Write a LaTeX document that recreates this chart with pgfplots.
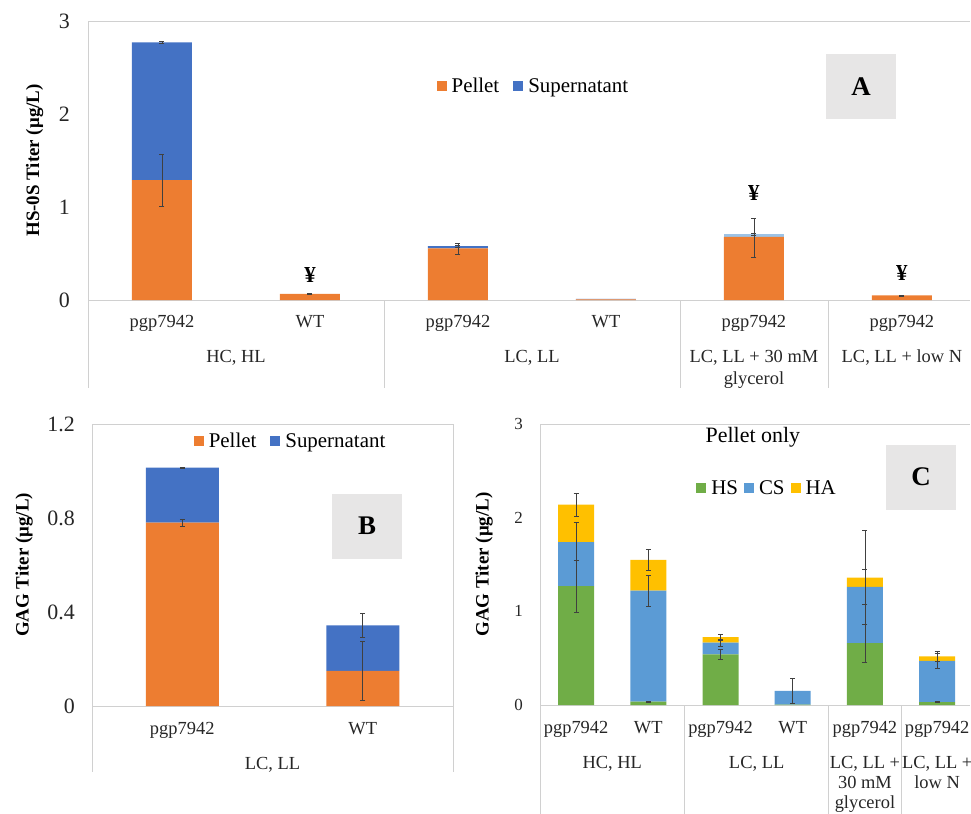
\documentclass[border=0pt]{standalone}
\usepackage{pgfplots}
\pgfplotsset{compat=1.18}
\usepackage{fontspec}
\setmainfont{Liberation Serif}
\definecolor{cOr}{HTML}{ED7D31}
\definecolor{cBl}{HTML}{4472C4}
\definecolor{cGr}{HTML}{70AD47}
\definecolor{cCs}{HTML}{5B9BD5}
\definecolor{cHa}{HTML}{FFC000}
\definecolor{cLb}{HTML}{9DC3E6}
\definecolor{boxg}{HTML}{E7E6E6}
\definecolor{frg}{HTML}{D0D0D0}
\newcommand\fsz[2]{\fontsize{#1}{#2}\selectfont}
\pgfplotsset{
  base/.style={clip=false, axis line style={draw=none},
    major tick length=0pt,
    /pgf/number format/assume math mode=true,
    xticklabel style={font=\fsz{18.5}{22}, anchor=north, inner sep=0pt, text=black!85},
    yticklabel style={anchor=east, inner sep=0pt, text=black!85},
    ylabel style={font=\bfseries\fsz{19}{22}},
    legend cell align=left, legend columns=-1,
    legend style={draw=none, fill=none, font=\fsz{21}{24},
      /tikz/every even column/.append style={column sep=12bp}}},
  sq/.style={legend image code/.code={\fill[##1] (0bp,-5bp) rectangle (10bp,5bp); \path (13bp,0bp);}},
  geoA/.style={scale only axis, at={(88bp,-300bp)}, anchor=south west, width=882bp, height=279bp,
    xmin=-0.5, xmax=5.46, ymin=0, ymax=3},
  geoB/.style={scale only axis, at={(92bp,-706bp)}, anchor=south west, width=361bp, height=282bp,
    xmin=-0.5, xmax=1.5, ymin=0, ymax=1.2},
  geoC/.style={scale only axis, at={(540bp,-705bp)}, anchor=south west, width=430bp, height=281bp,
    xmin=-0.5, xmax=5.455, ymin=0, ymax=3},
  ebar/.style={draw=none, mark=none, forget plot,
    error bars/.cd, y dir=both, y explicit,
    error bar style={draw=black!75, line width=0.6bp},
    error mark options={rotate=90, mark size=2.5bp, line width=0.6bp, draw=black!75}},
}
\tikzset{
  fr/.style={draw=frg, line width=0.8bp},
  glab/.style={anchor=north, inner sep=0pt, font=\fsz{18.5}{22}, align=center, text=black!85},
  lbox/.style={fill=boxg, minimum width=70bp, minimum height=65bp, inner sep=0pt, font=\bfseries\fsz{27}{27}},
  yen/.style={font=\bfseries\fsz{23}{23}},
}
\begin{document}
\begin{tikzpicture}
\useasboundingbox (0,0) rectangle (971bp,-814bp);
% ---------------- Panel A ----------------
\begin{axis}[base, geoA, ybar stacked, bar width=60bp,
  xtick={0,...,5}, xticklabels={pgp7942,WT,pgp7942,WT,pgp7942,pgp7942},
  xticklabel style={yshift=-15bp},
  ytick={0,1,2,3},
  yticklabel style={font=\fsz{22}{22}, xshift=-18bp},
  ylabel={HS-0S Titer (μg/L)}, ylabel shift=12bp,
  legend style={at={(0.505,0.767)}, anchor=center}]
\addplot[fill=cOr, draw=none, sq] coordinates {(0,1.29) (1,0.065) (2,0.555) (3,0.008) (4,0.68) (5,0.05)};
\addplot[fill=cBl, draw=none, sq] coordinates {(0,1.48) (1,0) (2,0.025) (3,0.004) (4,0) (5,0)};
\addplot[fill=cLb, draw=none, forget plot] coordinates {(0,0) (1,0) (2,0) (3,0) (4,0.03) (5,0)};
\legend{Pellet, Supernatant}
\draw[fr] (rel axis cs:0,1) -- (rel axis cs:1,1);
\draw[fr] (rel axis cs:0,0) -- (rel axis cs:1,0);
\draw[fr] (rel axis cs:0,1) -- ([yshift=-88bp]rel axis cs:0,0);
\draw[fr] (axis cs:1.5,0) -- ([yshift=-88bp]axis cs:1.5,0);
\draw[fr] (axis cs:3.5,0) -- ([yshift=-88bp]axis cs:3.5,0);
\draw[fr] (axis cs:4.5,0) -- ([yshift=-88bp]axis cs:4.5,0);
\node[glab] at ([yshift=-50bp]axis cs:0.5,0) {HC, HL};
\node[glab] at ([yshift=-50bp]axis cs:2.5,0) {LC, LL};
\node[glab] at ([yshift=-50bp]axis cs:4,0) {LC, LL + 30 mM\\glycerol};
\node[glab] at ([yshift=-50bp]axis cs:5,0) {LC, LL + low N};
\node[yen] at (axis cs:1,0.27) {¥};
\node[yen] at (axis cs:4,1.15) {¥};
\node[yen] at (axis cs:5,0.29) {¥};
\end{axis}
\begin{axis}[geoA, hide axis]
\addplot[ebar] coordinates {(0,1.29) +- (0,0.28) (0,2.77) +- (0,0.008)
  (1,0.065) +- (0,0.005) (2,0.55) +- (0,0.06) (2,0.58) +- (0,0.01)
  (4,0.67) +- (0,0.21) (4,0.71) +- (0,0.01) (5,0.05) +- (0,0.005)};
\end{axis}
% ---------------- Panel B ----------------
\begin{axis}[base, geoB, ybar stacked, bar width=73bp,
  xtick={0,1}, xticklabels={pgp7942,WT},
  xticklabel style={yshift=-16bp},
  ytick={0,0.4,0.8,1.2},
  yticklabel style={font=\fsz{22}{22}, xshift=-17bp},
  ylabel={GAG Titer (μg/L)}, ylabel shift=11bp,
  legend style={at={(0.55,0.94)}, anchor=center}]
\addplot[fill=cOr, draw=none, sq] coordinates {(0,0.78) (1,0.149)};
\addplot[fill=cBl, draw=none, sq] coordinates {(0,0.234) (1,0.194)};
\legend{Pellet, Supernatant}
\draw[fr] (rel axis cs:0,1) -- (rel axis cs:1,1);
\draw[fr] (rel axis cs:0,0) -- (rel axis cs:1,0);
\draw[fr] (rel axis cs:0,1) -- ([yshift=-66bp]rel axis cs:0,0);
\draw[fr] (rel axis cs:1,1) -- ([yshift=-66bp]rel axis cs:1,0);
\node[glab] at ([yshift=-51.5bp]axis cs:0.5,0) {LC, LL};
\end{axis}
\begin{axis}[geoB, hide axis]
\addplot[ebar] coordinates {(0,0.78) +- (0,0.015) (0,1.014) +- (0,0.003)
  (1,0.15) +- (0,0.125) (1,0.343) +- (0,0.05)};
\end{axis}
% ---------------- Panel C ----------------
\begin{axis}[base, geoC, ybar stacked, bar width=36bp,
  xtick={0,...,5}, xticklabels={pgp7942,WT,pgp7942,WT,pgp7942,pgp7942},
  xticklabel style={yshift=-16bp},
  ytick={0,1,2,3},
  yticklabel style={font=\fsz{17}{17}, xshift=-17bp},
  ylabel={GAG Titer (μg/L)}, ylabel shift=18bp,
  title={Pellet only},
  title style={at={(0.495,0.932)}, anchor=center, font=\fsz{22}{26}},
  legend style={at={(0.528,0.772)}, anchor=center,
    /tikz/every even column/.append style={column sep=4bp}}]
\addplot[fill=cGr, draw=none, sq] coordinates {(0,1.27) (1,0.035) (2,0.54) (3,0.005) (4,0.66) (5,0.03)};
\addplot[fill=cCs, draw=none, sq] coordinates {(0,0.47) (1,1.185) (2,0.125) (3,0.145) (4,0.60) (5,0.44)};
\addplot[fill=cHa, draw=none, sq] coordinates {(0,0.40) (1,0.33) (2,0.061) (3,0) (4,0.10) (5,0.05)};
\legend{HS, CS, HA}
\draw[fr] (rel axis cs:0,1) -- (rel axis cs:1,1);
\draw[fr] (rel axis cs:0,0) -- (rel axis cs:1,0);
\draw[fr] (rel axis cs:0,1) -- ([yshift=-110bp]rel axis cs:0,0);
\draw[fr] (axis cs:1.5,0) -- ([yshift=-110bp]axis cs:1.5,0);
\draw[fr] (axis cs:3.5,0) -- ([yshift=-110bp]axis cs:3.5,0);
\draw[fr] (axis cs:4.5,0) -- ([yshift=-110bp]axis cs:4.5,0);
\node[glab, font=\fsz{18.5}{20}] at ([yshift=-51.5bp]axis cs:0.5,0) {HC, HL};
\node[glab, font=\fsz{18.5}{20}] at ([yshift=-51.5bp]axis cs:2.5,0) {LC, LL};
\node[glab, font=\fsz{18.5}{20}] at ([yshift=-51.5bp]axis cs:4,0) {LC, LL +\\30 mM\\glycerol};
\node[glab, font=\fsz{18.5}{20}] at ([yshift=-51.5bp]axis cs:5,0) {LC, LL +\\low N};
\end{axis}
\begin{axis}[geoC, hide axis]
\addplot[ebar] coordinates {(0,1.27) +- (0,0.28) (0,1.75) +- (0,0.2) (0,2.14) +- (0,0.12)
  (1,0.035) +- (0,0.005) (1,1.22) +- (0,0.17) (1,1.55) +- (0,0.11)
  (2,0.54) +- (0,0.05) (2,0.665) +- (0,0.04) (2,0.726) +- (0,0.03)
  (3,0.15) +- (0,0.13)
  (4,0.66) +- (0,0.2) (4,1.26) +- (0,0.19) (4,1.36) +- (0,0.5)
  (5,0.03) +- (0,0.005) (5,0.47) +- (0,0.08) (5,0.52) +- (0,0.05)};
\end{axis}
% ---------------- panel letters ----------------
\node[lbox] at (861bp,-86.5bp) {A};
\node[lbox] at (367bp,-526bp) {B};
\node[lbox] at (921bp,-477bp) {C};
\end{tikzpicture}
\end{document}
